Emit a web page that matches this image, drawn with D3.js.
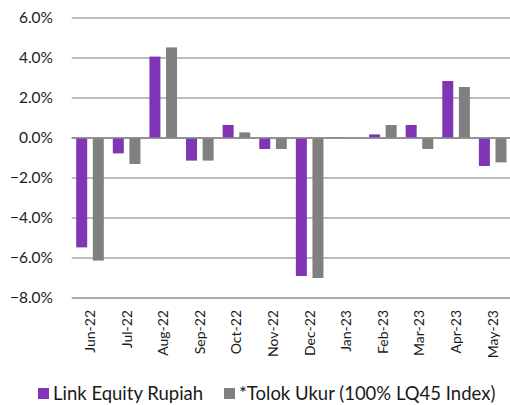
<!DOCTYPE html>
<html>
<head>
<meta charset="utf-8">
<script src="https://cdn.jsdelivr.net/npm/d3@7"></script>
<style>
  body { margin: 0; background: #fff; }
  text { font-family: Lato, "Open Sans", sans-serif; fill: #1a1a1a; }
</style>
</head>
<body>
<svg id="chart" width="510" height="405"></svg>
<script>

// monthly returns
var months = ["Jun-22","Jul-22","Aug-22","Sep-22","Oct-22","Nov-22","Dec-22","Jan-23","Feb-23","Mar-23","Apr-23","May-23"];
var fundValues = [-5.47, -0.77, 4.07, -1.13, 0.65, -0.55, -6.9, 0.03, 0.18, 0.65, 2.85, -1.4];
var benchValues = [-6.13, -1.3, 4.53, -1.13, 0.28, -0.55, -7.0, 0.0, 0.65, -0.55, 2.55, -1.22];
var seriesNames = ["Link Equity Rupiah", "*Tolok Ukur (100% LQ45 Index)"];
var yTicks = [6, 4, 2, 0, -2, -4, -6, -8];

var colors = ["#7f35b4", "#808080"];

var svg = d3.select("#chart");
// plot area (don't name it "top", window.top is read-only)
var plotL = 71.7, plotR = 511, plotT = 18, plotB = 298;

var x = d3.scaleBand().domain(months).range([plotL, plotR]);
var y = d3.scaleLinear().domain([-8, 6]).range([plotB, plotT]);

// grid
svg.append("g").selectAll("line")
    .data(yTicks)
    .enter()
    .append("line")
    .attr("x1", plotL).attr("x2", 510)
    .attr("y1", d => y(d)).attr("y2", d => y(d))
    .attr("stroke", d => (d == 0 || d == -8) ? "#8c8c8c" : "#a6a6a6")
    .attr("stroke-width", 1.5);

// y labels
svg.append("g").selectAll("text")
    .data(yTicks)
    .enter()
    .append("text")
    .attr("x", 53)
    .attr("y", d => y(d))
    .attr("dy", "0.35em")
    .attr("text-anchor", "end")
    .attr("font-size", 15.5)
    .text(d => d3.format(".1f")(d) + "%");

// bars
var table = months.map((m, i) => ({ month: m, vals: [fundValues[i], benchValues[i]] }));
var bw = 11, gap = 5.6;
var groups = svg.append("g").selectAll("g")
    .data(table)
    .enter()
    .append("g")
    .attr("transform", d => `translate(${x(d.month) + x.bandwidth() / 2},0)`);

groups.selectAll("rect")
    .data(d => d.vals)
    .enter()
    .append("rect")
    .attr("x", (d, i) => i == 0 ? -(bw + gap / 2) : gap / 2)
    .attr("width", bw)
    .attr("y", d => y(Math.max(0, d)))
    .attr("height", d => Math.abs(y(d) - y(0)))
    .attr("fill", (d, i) => colors[i]);

// redraw zero line over bars
svg.append("line")
    .attr("x1", plotL).attr("x2", 510)
    .attr("y1", y(0)).attr("y2", y(0))
    .attr("stroke", "#8c8c8c")
    .attr("stroke-width", 1.5);

// x labels, rotated
svg.append("g").selectAll("text")
    .data(months)
    .enter()
    .append("text")
    .attr("transform", d => `translate(${x(d) + x.bandwidth() / 2 + 5},310) rotate(-90)`)
    .attr("text-anchor", "end")
    .attr("font-size", 14)
    .text(d => d);

// legend
var legendX = [38, 224];
var leg = svg.append("g").selectAll("g")
    .data(seriesNames)
    .enter()
    .append("g")
    .attr("transform", (d, i) => `translate(${legendX[i]},388)`);
leg.append("rect")
    .attr("width", 11).attr("height", 11)
    .attr("fill", (d, i) => colors[i]);
leg.append("text")
    .attr("x", 15)
    .attr("y", 12)
    .attr("font-size", 18.5)
    .text(d => d);

</script>
</body>
</html>
